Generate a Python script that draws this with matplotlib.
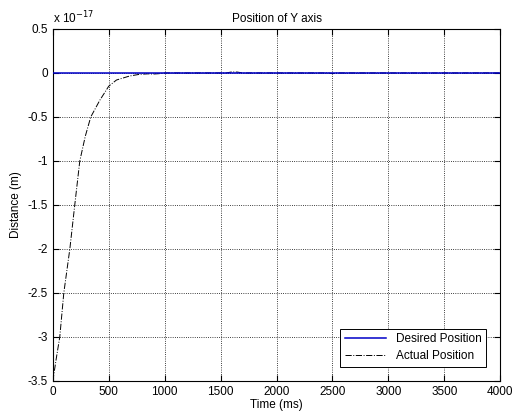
import numpy as np
import matplotlib.pyplot as plt
from matplotlib.ticker import FuncFormatter

# values (distance in units of 1e-17 m)
t_desired = [0, 4000]
y_desired = [0, 0]

t_actual = [0, 30, 62, 98, 152, 196, 241, 290, 339, 420, 500, 569, 688, 777,
            850, 900, 950, 1000, 1550, 1600, 1650, 1700, 2460, 2500, 2540, 4000]
y_actual = [-3.5, -3.25, -3.0, -2.5, -2.0, -1.5, -1.0, -0.72, -0.5, -0.31, -0.15,
            -0.08, -0.034, -0.015, -0.01, -0.012, -0.008, 0.0, 0.0, 0.012, 0.01,
            0.0, 0.0, -0.008, 0.0, 0.0]

scale = 1e-17
plt.rcParams['font.family'] = ['Liberation Sans', 'DejaVu Sans']
plt.rcParams['axes.unicode_minus'] = False

fig = plt.figure(figsize=(5.13, 4.2), dpi=100)
ax = fig.add_axes([0.103, 0.093, 0.872, 0.838])

ax.plot(t_actual, np.array(y_actual) * scale, color='black', linestyle='-.',
        linewidth=0.7, label='Actual Position', zorder=2)
ax.plot(t_desired, np.array(y_desired) * scale, color='#0000c8',
        linewidth=1.1, label='Desired Position', zorder=3)

ax.set_xlim(0, 4000)
ax.set_ylim(-3.5e-17, 0.5e-17)
ax.set_xticks(np.arange(0, 4001, 500))
ax.set_yticks(np.arange(-3.5, 0.51, 0.5) * scale)
ax.yaxis.set_major_formatter(FuncFormatter(lambda v, p: '%g' % round(v / scale, 2)))
ax.text(0.0, 1.008, r'x 10$^{-17}$', transform=ax.transAxes, fontsize=8.5,
        ha='left', va='bottom')

ax.grid(True, color='black', linestyle=':', linewidth=0.6)
ax.tick_params(direction='in', top=True, right=True, labelsize=8.5, length=4)
for s in ax.spines.values():
    s.set_linewidth(0.8)

ax.set_title('Position of Y axis', fontsize=8.5, pad=5)
ax.set_xlabel('Time (ms)', fontsize=8.5, labelpad=1)
ax.set_ylabel('Distance (m)', fontsize=8.5, labelpad=4)

h, l = ax.get_legend_handles_labels()
leg = ax.legend(h[::-1], l[::-1], loc='lower right', fontsize=8.5,
                fancybox=False, edgecolor='black', framealpha=1,
                borderaxespad=1.2, handlelength=3.5, labelspacing=0.4)
leg.get_frame().set_linewidth(0.7)

fig.savefig('out.png', dpi=100)
